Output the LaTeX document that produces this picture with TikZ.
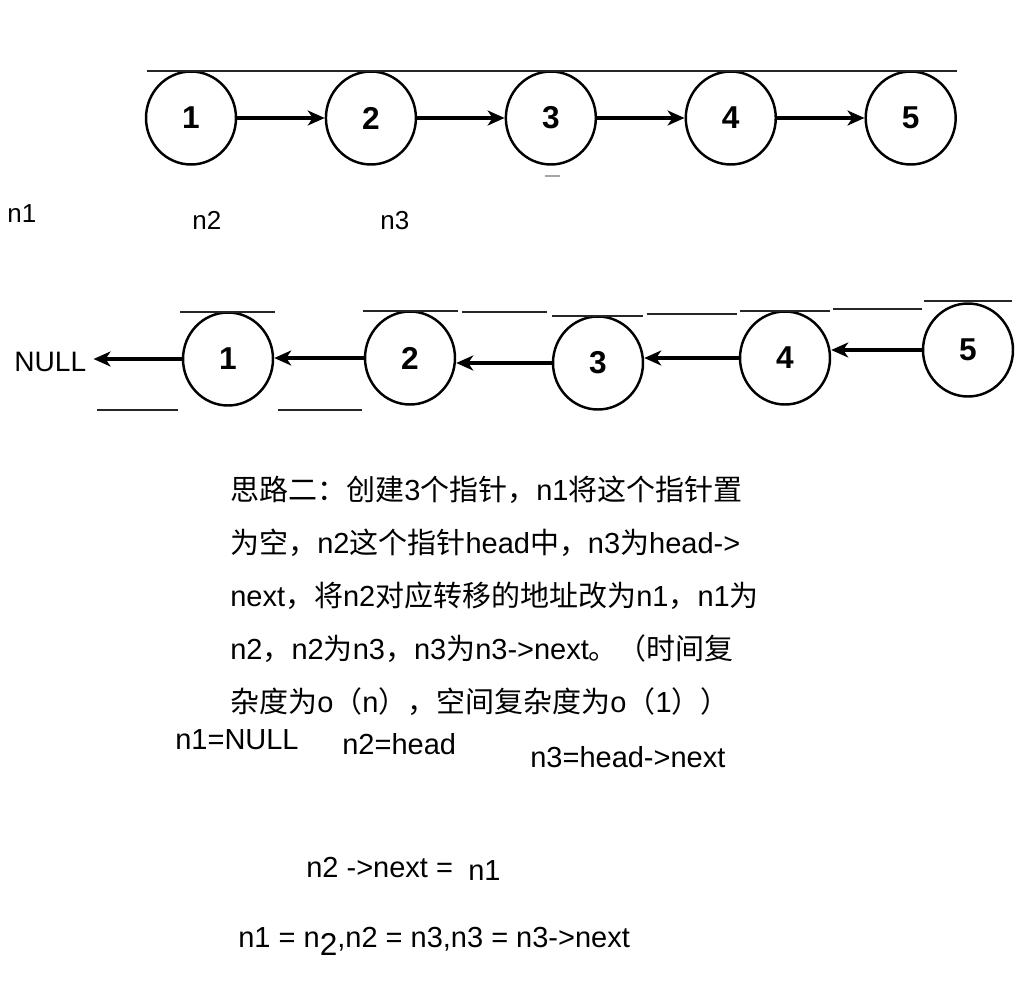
\documentclass[tikz,border=0pt]{standalone}
\usepackage{fontspec}
\setmainfont{Liberation Sans}
\newfontfamily\cjk{Noto Sans CJK SC}
\usetikzlibrary{shapes.geometric, arrows.meta, positioning}

\begin{document}
\begin{tikzpicture}[x=0.02cm, y=-0.02cm,
  listnode/.style={ellipse, draw=black, line width=1.4pt, minimum width=1.8cm,
    minimum height=1.86cm, inner sep=0pt, fill=white, font=\fontsize{18}{20}\selectfont\bfseries},
  arrow/.style={-{Stealth[length=3.4mm, width=3mm, inset=1mm]}, line width=1.8pt},
  ptr/.style={anchor=base west, inner sep=0pt, font=\fontsize{14.8}{17}\selectfont},
  note/.style={anchor=base west, inner sep=0pt, font=\fontsize{16.5}{20}\selectfont},
  cutline/.style={line width=0.6pt, black!85}
]
\useasboundingbox (0,0) rectangle (1028,984);

% 原链表
\node (a1) [listnode] at (191,118) {1};
\node (a2) [listnode, right=1.75cm of a1] {2};
\node (a3) [listnode, right=1.75cm of a2] {3};
\node (a4) [listnode, right=1.75cm of a3] {4};
\node (a5) [listnode, right=1.75cm of a4] {5};

\draw [arrow] (a1) -- (a2);
\draw [arrow] (a2) -- (a3);
\draw [arrow] (a3) -- (a4);
\draw [arrow] (a4) -- (a5);

\draw [cutline] (147,71) -- (957,71);
\draw [cutline, black!35] (545,176) -- (560,176);

% 三个指针
\node (p1) [ptr] at (7,222) {n1};
\node (p2) [ptr] at (192,229) {n2};
\node (p3) [ptr] at (380,229) {n3};

% 反转后的链表
\node (null) [anchor=west, inner sep=0.14cm, font=\fontsize{16}{19}\selectfont] at (7,362) {NULL};
\node (b1) [listnode] at (228,359) {1};
\node (b2) [listnode] at (410,358) {2};
\node (b3) [listnode] at (598,363) {3};
\node (b4) [listnode] at (785,358) {4};
\node (b5) [listnode] at (968,350) {5};

\draw [arrow] (b1.west) -- (b1.west -| null.east);
\draw [arrow] (b2.west) -- (b2.west -| b1.east);
\draw [arrow] (b3.west) -- (b3.west -| b2.east);
\draw [arrow] (b4.west) -- (b4.west -| b3.east);
\draw [arrow] (b5.west) -- (b5.west -| b4.east);

\draw [cutline] (180,312) -- (275,312);
\draw [cutline] (363,311) -- (458,311);
\draw [cutline] (462,312) -- (547,312);
\draw [cutline] (552,316) -- (643,316);
\draw [cutline] (647,314) -- (737,314);
\draw [cutline] (740,311) -- (830,311);
\draw [cutline] (833,309) -- (922,309);
\draw [cutline] (924,301) -- (1012,301);
\draw [cutline] (97,410) -- (178,410);
\draw [cutline] (278,410) -- (362,410);

% 思路说明
\node (idea1) [note] at (230,500) {{\cjk 思路二：创建}3{\cjk 个指针，}n1{\cjk 将这个指针置}};
\node (idea2) [note] at (230,553) {{\cjk 为空，}n2{\cjk 这个指针}head{\cjk 中，}n3{\cjk 为}head->};
\node (idea3) [note] at (230,606) {next{\cjk ，将}n2{\cjk 对应转移的地址改为}n1{\cjk ，}n1{\cjk 为}};
\node (idea4) [note] at (230,659) {n2{\cjk ，}n2{\cjk 为}n3{\cjk ，}n3{\cjk 为}n3->next{\cjk 。（时间复}};
\node (idea5) [note] at (230,712) {{\cjk 杂度为}o{\cjk （}n{\cjk ），空间复杂度为}o{\cjk （}1{\cjk ））}};

% 初始化与迭代
\node (init1) [note] at (175,749) {n1=NULL};
\node (init2) [note] at (342,754) {n2=head};
\node (init3) [note] at (530,767) {n3=head->next};

\node (step1) [note] at (306,877) {n2 ->next =};
\node (step1b) [note] at (468,880) {n1};
\node (step2) [note] at (238,947) {n1 = n\raisebox{-0.3em}{\fontsize{18}{20}\selectfont 2},n2 = n3,n3 = n3->next};

\end{tikzpicture}
\end{document}
